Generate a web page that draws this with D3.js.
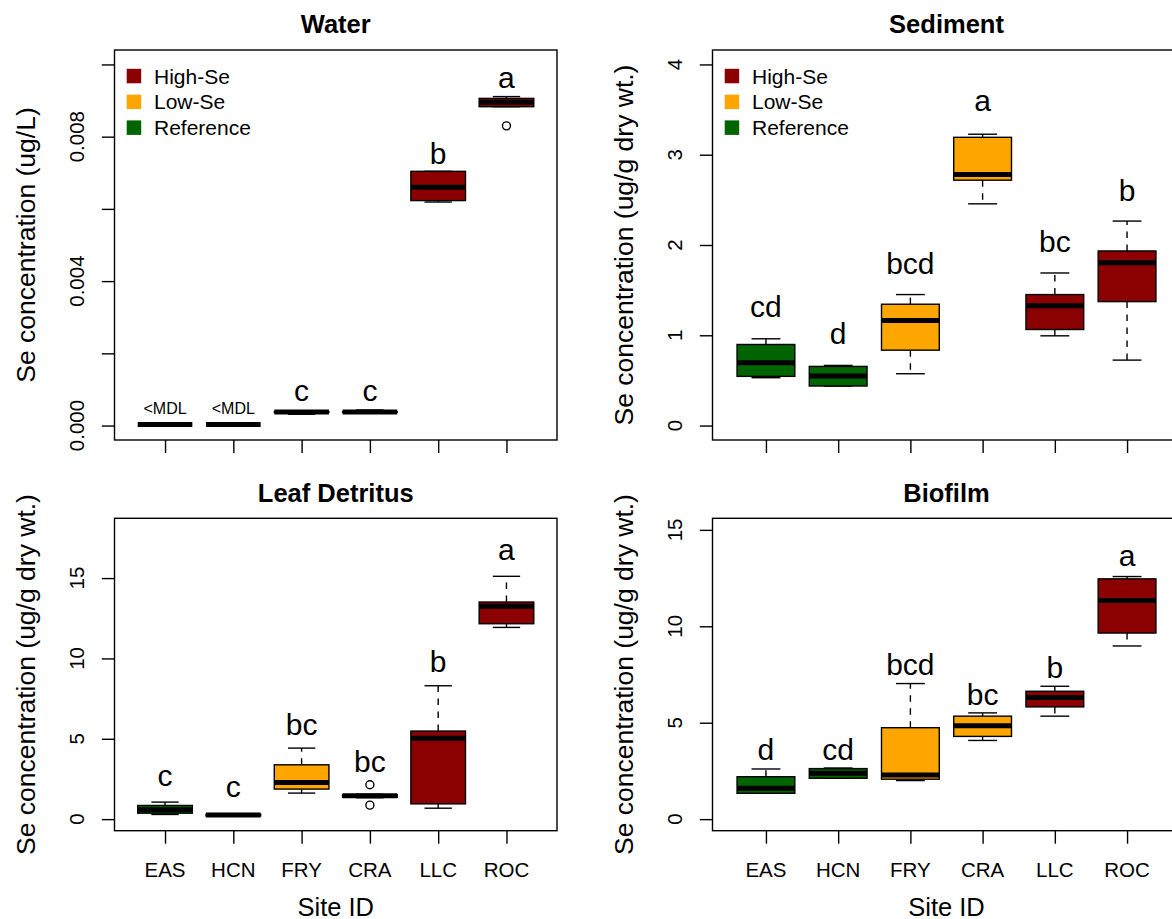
<!DOCTYPE html>
<meta charset="utf-8">
<head>
<script src="https://cdn.jsdelivr.net/npm/d3@7"></script>
<style>
  body { margin: 0; background: #fff; }
  svg { display: block; font-family: "Liberation Sans", Arial, sans-serif; }
</style>
</head>
<body>
<div id="chart"></div>
<script>

  // sites and their groups
  const sites = ["EAS", "HCN", "FRY", "CRA", "LLC", "ROC"];
  const siteGroups = ["Reference", "Reference", "Low-Se", "Low-Se", "High-Se", "High-Se"];
  const groupNames = ["High-Se", "Low-Se", "Reference"];
  const groupColors = ["#8B0000", "#FFA500", "#006400"];

  // box stats per site: [lower whisker, Q1, median, Q3, upper whisker]
  const waterStats = [
    [0.000028, 0.000028, 0.000028, 0.000028, 0.000028],
    [0.000028, 0.000028, 0.000028, 0.000028, 0.000028],
    [0.000313, 0.000365, 0.000372, 0.000380, 0.000380],
    [0.000370, 0.000372, 0.000378, 0.000385, 0.000432],
    [0.00619, 0.00623, 0.00660, 0.00704, 0.00704],
    [0.00883, 0.00883, 0.00895, 0.00906, 0.00911]
  ];
  const waterOutliers = [[], [], [], [], [], [0.0083]];
  const waterLetters = ["<MDL", "<MDL", "c", "c", "b", "a"];
  const waterLetterY = [0.000332, 0.000332, 0.00068, 0.00068, 0.00725, 0.00935];
  const waterTicks = [0, 0.002, 0.004, 0.006, 0.008, 0.010];
  const waterTickLabels = ["0.000", "", "0.004", "", "0.008", ""];

  const sedimentStats = [
    [0.530, 0.545, 0.696, 0.898, 0.961],
    [0.438, 0.438, 0.548, 0.655, 0.666],
    [0.574, 0.835, 1.163, 1.344, 1.451],
    [2.456, 2.718, 2.780, 3.193, 3.227],
    [0.994, 1.064, 1.326, 1.451, 1.690],
    [0.725, 1.373, 1.804, 1.934, 2.265]
  ];
  const sedimentOutliers = [[], [], [], [], [], []];
  const sedimentLetters = ["cd", "d", "bcd", "a", "bc", "b"];
  const sedimentLetterY = [1.20, 0.906, 1.68, 3.484, 1.918, 2.49];
  const sedimentTicks = [0, 1, 2, 3, 4];
  const sedimentTickLabels = ["0", "1", "2", "3", "4"];

  const leafStats = [
    [0.29, 0.37, 0.58, 0.85, 1.06],
    [0.18, 0.20, 0.25, 0.30, 0.33],
    [1.62, 1.87, 2.28, 3.38, 4.42],
    [1.33, 1.36, 1.45, 1.52, 1.55],
    [0.68, 0.95, 5.04, 5.48, 8.30],
    [11.93, 12.16, 13.24, 13.51, 15.11]
  ];
  const leafOutliers = [[], [], [], [2.14, 0.87], [], []];
  const leafLetters = ["c", "c", "bc", "bc", "b", "a"];
  const leafLetterY = [2.07, 1.37, 5.25, 2.96, 9.13, 16.15];
  const leafTicks = [0, 5, 10, 15];
  const leafTickLabels = ["0", "5", "10", "15"];

  const biofilmStats = [
    [1.34, 1.34, 1.60, 2.20, 2.60],
    [2.12, 2.12, 2.38, 2.62, 2.65],
    [2.00, 2.07, 2.29, 4.74, 7.03],
    [4.08, 4.29, 4.84, 5.34, 5.51],
    [5.34, 5.82, 6.31, 6.63, 6.89],
    [8.98, 9.65, 11.34, 12.46, 12.58]
  ];
  const biofilmOutliers = [[], [], [], [], [], []];
  const biofilmLetters = ["d", "cd", "bcd", "bc", "b", "a"];
  const biofilmLetterY = [3.07, 3.07, 7.46, 5.91, 7.34, 13.15];
  const biofilmTicks = [0, 5, 10, 15];
  const biofilmTickLabels = ["0", "5", "10", "15"];

  const ylabWater = "Se concentration (ug/L)";
  const ylabDry = "Se concentration (ug/g dry wt.)";

  const W = 1172, H = 919;
  const svg = d3.select("#chart").append("svg")
    .attr("width", W)
    .attr("height", H);

  // plot regions (right column runs past the picture edge, as in the original)
  const cols = [{left: 114.5, right: 557}, {left: 712.5, right: 1180.5}];
  const rows = [{top: 50, bottom: 440}, {top: 518.3, bottom: 830.7}];

  const panels = [
    {title: "Water", stats: waterStats, out: waterOutliers, letters: waterLetters, letterY: waterLetterY,
     ylim: [0, 0.01], ticks: waterTicks, tickLabels: waterTickLabels, ylab: ylabWater, col: 0, row: 0},
    {title: "Sediment", stats: sedimentStats, out: sedimentOutliers, letters: sedimentLetters, letterY: sedimentLetterY,
     ylim: [0, 4], ticks: sedimentTicks, tickLabels: sedimentTickLabels, ylab: ylabDry, col: 1, row: 0},
    {title: "Leaf Detritus", stats: leafStats, out: leafOutliers, letters: leafLetters, letterY: leafLetterY,
     ylim: [0, 18], ticks: leafTicks, tickLabels: leafTickLabels, ylab: ylabDry, col: 0, row: 1},
    {title: "Biofilm", stats: biofilmStats, out: biofilmOutliers, letters: biofilmLetters, letterY: biofilmLetterY,
     ylim: [0, 15], ticks: biofilmTicks, tickLabels: biofilmTickLabels, ylab: ylabDry, col: 1, row: 1}
  ];

  const color = d3.scaleOrdinal().domain(groupNames).range(groupColors);
  const lw = 1.4;

  function drawPanel(p) {
    const left = cols[p.col].left, right = cols[p.col].right;
    const top = rows[p.row].top, bottom = rows[p.row].bottom;
    const g = svg.append("g");

    // R style axis limits: 4% extension
    const x = d3.scaleLinear().domain([0.26, 6.74]).range([left, right]);
    const pad = (p.ylim[1] - p.ylim[0]) * 0.04;
    const y = d3.scaleLinear().domain([p.ylim[0] - pad, p.ylim[1] + pad]).range([bottom, top]);

    // y axis
    const yAxis = g.append("g")
      .attr("transform", `translate(${left},0)`)
      .call(d3.axisLeft(y).tickValues(p.ticks).tickSize(12.7).tickSizeOuter(0).tickFormat(""));
    yAxis.select(".domain").remove();
    yAxis.selectAll("line").attr("stroke", "#000").attr("stroke-width", lw);

    g.selectAll(".ytl")
      .data(p.ticks)
      .join("text")
        .attr("class", "ytl")
        .attr("transform", d => `translate(${left - 31},${y(d)}) rotate(-90)`)
        .attr("text-anchor", "middle")
        .style("font-size", "20.5px")
        .text((d, i) => p.tickLabels[i]);

    // x axis
    const xAxis = g.append("g")
      .attr("transform", `translate(0,${bottom})`)
      .call(d3.axisBottom(x).tickValues(d3.range(1, 7)).tickSize(13).tickSizeOuter(0).tickFormat(""));
    xAxis.select(".domain").remove();
    xAxis.selectAll("line").attr("stroke", "#000").attr("stroke-width", lw);

    if (p.row === 1) {
      g.selectAll(".xtl")
        .data(sites)
        .join("text")
          .attr("class", "xtl")
          .attr("x", (d, i) => x(i + 1))
          .attr("y", 877.3)
          .attr("text-anchor", "middle")
          .style("font-size", "20.5px")
          .text(d => d);
      g.append("text")
        .attr("x", (left + right) / 2)
        .attr("y", 915.5)
        .attr("text-anchor", "middle")
        .style("font-size", "25.5px")
        .text("Site ID");
    }

    // boxes
    p.stats.forEach((s, i) => {
      const cx = x(i + 1);
      const bx0 = x(i + 1 - 0.4), bx1 = x(i + 1 + 0.4);
      const cx0 = x(i + 1 - 0.2), cx1 = x(i + 1 + 0.2);
      const b = g.append("g");

      // whiskers, dashed from box to end
      [[s[3], s[4]], [s[1], s[0]]].forEach(([from, to]) => {
        if (from === to) return;
        b.append("line")
          .attr("x1", cx).attr("x2", cx)
          .attr("y1", y(from)).attr("y2", y(to))
          .attr("stroke", "#000").attr("stroke-width", lw)
          .attr("stroke-dasharray", "6.5,6.5");
      });
      [s[0], s[4]].forEach(v => {
        b.append("line")
          .attr("x1", cx0).attr("x2", cx1)
          .attr("y1", y(v)).attr("y2", y(v))
          .attr("stroke", "#000").attr("stroke-width", lw);
      });

      b.append("rect")
        .attr("x", bx0)
        .attr("y", y(s[3]))
        .attr("width", bx1 - bx0)
        .attr("height", Math.max(0, y(s[1]) - y(s[3])))
        .attr("fill", color(siteGroups[i]))
        .attr("stroke", "#000")
        .attr("stroke-width", lw);

      b.append("line")
        .attr("x1", bx0).attr("x2", bx1)
        .attr("y1", y(s[2])).attr("y2", y(s[2]))
        .attr("stroke", "#000").attr("stroke-width", 5);

      b.selectAll("circle")
        .data(p.out[i])
        .join("circle")
          .attr("cx", cx)
          .attr("cy", d => y(d))
          .attr("r", 4)
          .attr("fill", "none")
          .attr("stroke", "#000")
          .attr("stroke-width", lw);

      const lab = p.letters[i];
      b.append("text")
        .attr("x", cx)
        .attr("y", y(p.letterY[i]))
        .attr("text-anchor", "middle")
        .style("font-size", lab === "<MDL" ? "16px" : "30px")
        .text(lab);
    });

    // plot frame
    g.append("rect")
      .attr("x", left).attr("y", top)
      .attr("width", right - left).attr("height", bottom - top)
      .attr("fill", "none")
      .attr("stroke", "#000")
      .attr("stroke-width", lw);

    // title and y label
    g.append("text")
      .attr("x", (left + right) / 2)
      .attr("y", top - 16.7)
      .attr("text-anchor", "middle")
      .style("font-size", "25.5px")
      .style("font-weight", "bold")
      .text(p.title);

    g.append("text")
      .attr("transform", `translate(${left - 80},${(top + bottom) / 2}) rotate(-90)`)
      .attr("text-anchor", "middle")
      .style("font-size", "26.5px")
      .text(p.ylab);

    // legend on the top row
    if (p.row === 0) {
      groupNames.forEach((name, k) => {
        const cy = top + 26 + k * 25.8;
        g.append("rect")
          .attr("x", left + 12.2)
          .attr("y", cy - 7.2)
          .attr("width", 14.5)
          .attr("height", 14.5)
          .attr("fill", color(name));
        g.append("text")
          .attr("x", left + 39.5)
          .attr("y", cy)
          .attr("dy", "0.36em")
          .style("font-size", "21px")
          .text(name);
      });
    }
  }

  panels.forEach(drawPanel);

</script>
</body>
